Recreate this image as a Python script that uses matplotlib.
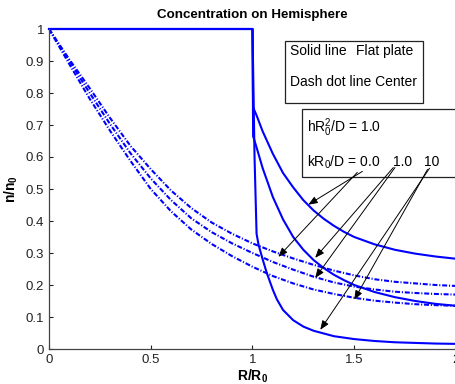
import numpy as np
import matplotlib
matplotlib.use("Agg")
import matplotlib.pyplot as plt
from matplotlib.patches import Rectangle

plt.rcParams['font.family'] = ['Liberation Sans', 'DejaVu Sans']
plt.rcParams['mathtext.fontset'] = 'custom'
plt.rcParams['mathtext.rm'] = 'Liberation Sans'
plt.rcParams['mathtext.it'] = 'Liberation Sans:italic'
plt.rcParams['mathtext.bf'] = 'Liberation Sans:bold'
plt.rcParams['mathtext.default'] = 'regular'
plt.rcParams['lines.scale_dashes'] = False

# --- data ---
# dash-dot lines (center), kR0/D = 0.0, 1.0, 10
r_center = [0, 0.1, 0.2, 0.3, 0.4, 0.5, 0.6, 0.7, 0.8, 0.9, 1.0,
            1.1, 1.2, 1.3, 1.4, 1.5, 1.6, 1.7, 1.8, 1.9, 2.0]
n_center_k0 = [1, 0.905, 0.815, 0.722, 0.635, 0.562, 0.495, 0.44, 0.395, 0.36, 0.33,
               0.305, 0.283, 0.263, 0.245, 0.23, 0.218, 0.21, 0.205, 0.2, 0.197]
n_center_k1 = [1, 0.9, 0.80, 0.703, 0.612, 0.533, 0.465, 0.408, 0.365, 0.33, 0.3,
               0.272, 0.248, 0.226, 0.208, 0.195, 0.186, 0.179, 0.175, 0.172, 0.17]
n_center_k10 = [1, 0.89, 0.782, 0.682, 0.588, 0.5, 0.43, 0.373, 0.328, 0.29, 0.257,
                0.228, 0.205, 0.186, 0.172, 0.16, 0.151, 0.145, 0.14, 0.137, 0.135]

# solid lines (flat plate)
r_plate_k0 = [0, 1.0, 1.003, 1.02, 1.05, 1.1, 1.15, 1.2, 1.25, 1.3, 1.35, 1.4,
              1.45, 1.5, 1.6, 1.7, 1.8, 1.9, 2.0]
n_plate_k0 = [1, 1, 0.755, 0.73, 0.68, 0.61, 0.55, 0.505, 0.465, 0.433, 0.407, 0.385,
              0.366, 0.35, 0.327, 0.31, 0.298, 0.289, 0.282]
r_plate_k1 = [0, 1.0, 1.003, 1.02, 1.05, 1.1, 1.15, 1.2, 1.25, 1.3, 1.35, 1.4,
              1.45, 1.5, 1.6, 1.7, 1.8, 1.9, 2.0]
n_plate_k1 = [1, 1, 0.665, 0.63, 0.565, 0.475, 0.405, 0.35, 0.31, 0.278, 0.253, 0.232,
              0.215, 0.2, 0.178, 0.162, 0.15, 0.141, 0.135]
r_plate_k10 = [0, 1.0, 1.01, 1.02, 1.03, 1.05, 1.07, 1.1, 1.12, 1.15, 1.2, 1.25,
               1.3, 1.4, 1.5, 1.6, 1.7, 1.8, 1.9, 2.0]
n_plate_k10 = [1, 1, 0.6, 0.36, 0.325, 0.28, 0.238, 0.185, 0.155, 0.122, 0.09, 0.07,
               0.057, 0.04, 0.031, 0.025, 0.021, 0.019, 0.017, 0.016]

# arrows: tails at the kR0/D labels, tips on the curves
arrow_tails = [(1.54, 0.555), (1.515, 0.552), (1.692, 0.567), (1.70, 0.567), (1.86, 0.561), (1.87, 0.565)]
arrow_tips = [(1.274, 0.451), (1.127, 0.288), (1.308, 0.285), (1.308, 0.222), (1.50, 0.154), (1.333, 0.06)]

blue = '#0000ff'
dashdot = (0, (3.6, 1.3, 0.8, 1.3))

fig = plt.figure(figsize=(4.56, 3.84), dpi=100)
ax = fig.add_axes([49 / 456, 35 / 384, 407 / 456, 320 / 384])

ax.plot(r_center, n_center_k0, color=blue, lw=1.5, linestyle=dashdot)
ax.plot(r_center, n_center_k1, color=blue, lw=1.5, linestyle=dashdot)
ax.plot(r_center, n_center_k10, color=blue, lw=1.5, linestyle=dashdot)
ax.plot(r_plate_k0, n_plate_k0, color=blue, lw=1.5, clip_on=False)
ax.plot(r_plate_k1, n_plate_k1, color=blue, lw=1.5, clip_on=False)
ax.plot(r_plate_k10, n_plate_k10, color=blue, lw=1.5, clip_on=False)

ax.set_xlim(0, 2)
ax.set_ylim(0, 1)
ax.set_xticks([0, 0.5, 1, 1.5, 2])
ax.set_xticklabels(['0', '0.5', '1', '1.5', '2'])
ax.set_yticks(np.arange(0, 1.01, 0.1))
ax.set_yticklabels(['0', '0.1', '0.2', '0.3', '0.4', '0.5', '0.6', '0.7', '0.8', '0.9', '1'])
ax.tick_params(direction='in', length=3, labelsize=9.5, colors='#222222', width=0.8)
for s in ['top', 'right']:
    ax.spines[s].set_visible(False)
for s in ['left', 'bottom']:
    ax.spines[s].set_color('#444444')
    ax.spines[s].set_linewidth(0.9)

ax.set_title('Concentration on Hemisphere', fontsize=9.6, fontweight='bold', pad=8)
ax.set_xlabel(r'$\mathbf{R/R_0}$', fontsize=10, labelpad=1)
ax.set_ylabel(r'$\mathbf{n/n_0}$', fontsize=10, labelpad=4)

# legend-like boxes
ax.add_patch(Rectangle((1.161, 0.768), 0.679, 0.194, fill=False, ec='#222222', lw=0.9))
ax.text(1.185, 0.931, 'Solid line', fontsize=10, va='center')
ax.text(1.51, 0.931, 'Flat plate', fontsize=10, va='center')
ax.text(1.185, 0.834, 'Dash dot line Center', fontsize=10, va='center')

ax.add_patch(Rectangle((1.245, 0.536), 1.0, 0.213, fill=False, ec='#222222', lw=0.9, clip_on=False))
ax.text(1.269, 0.693, r'hR$_0^2$/D = 1.0', fontsize=10, va='center')
ax.text(1.269, 0.583, r'kR$_0$/D = 0.0', fontsize=10, va='center')
ax.text(1.69, 0.583, '1.0', fontsize=10, va='center')
ax.text(1.845, 0.583, '10', fontsize=10, va='center')

for (tx, ty), (hx, hy) in zip(arrow_tails, arrow_tips):
    ax.annotate('', xy=(hx, hy), xytext=(tx, ty),
                arrowprops=dict(arrowstyle='-|>,head_length=0.55,head_width=0.22',
                                color='black', lw=0.7, shrinkA=0, shrinkB=0,
                                mutation_scale=10))

fig.savefig('out.png', dpi=100)
